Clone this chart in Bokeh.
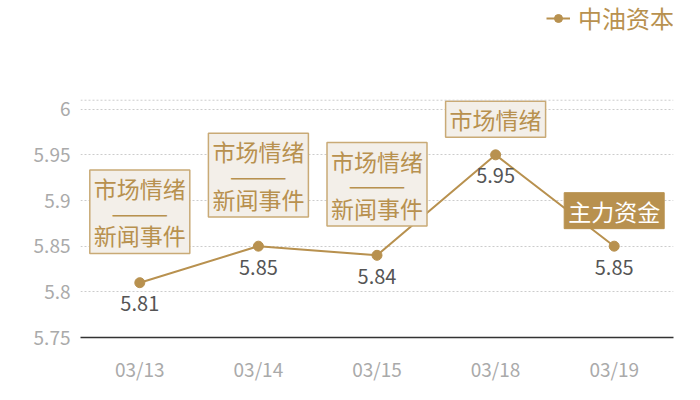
from bokeh.plotting import figure
from bokeh.models import ColumnDataSource, FixedTicker, Span, Legend, LegendItem, PrintfTickFormatter
from bokeh.core.properties import value
from bokeh.embed import file_html
from bokeh.resources import INLINE

# ---- data ----
dates = ["03/13", "03/14", "03/15", "03/18", "03/19"]
prices = [5.81, 5.85, 5.84, 5.95, 5.85]
value_labels = ["5.81", "5.85", "5.84", "5.95", "5.85"]
notes = ["市场情绪\n———\n新闻事件", "市场情绪\n———\n新闻事件", "市场情绪\n———\n新闻事件", "市场情绪", "主力资金"]
note_highlight = [False, False, False, False, True]
series_name = "中油资本"
y_ticks = [5.75, 5.8, 5.85, 5.9, 5.95, 6.0]
y_min = 5.75
grid_top = 6.0098          # top edge of the gridded area
px_per_unit = 916.0        # vertical scale of the reference
frame_h = 338              # frame height in px (frame reaches the top of the figure so the legend shows)
y_view_end = y_min + frame_h / px_per_unit

GOLD = "#b8914f"
BOX_BG = "#f3efe9"
BOX_BORDER = "#c9aa76"
FONT = "Noto Sans CJK SC"

p = figure(x_range=dates, y_range=(y_min, y_view_end), width=684, height=384,
           output_backend="svg", toolbar_location=None,
           min_border_left=80, min_border_right=11, min_border_top=0, min_border_bottom=46)
p.outline_line_color = None
p.background_fill_color = "white"

# axes
p.xaxis.axis_line_color = "#333333"
p.xaxis.axis_line_width = 1.5
p.xaxis.major_tick_line_color = None
p.xaxis.minor_tick_line_color = None
p.xaxis.major_tick_out = 0
p.xaxis.major_tick_in = 0
p.xaxis.minor_tick_out = 0
p.xaxis.major_label_text_color = "#aaaaaa"
p.xaxis.major_label_text_font = FONT
p.xaxis.major_label_text_font_size = "19px"
p.xaxis.major_label_standoff = 17

p.yaxis.axis_line_color = None
p.yaxis.major_tick_line_color = None
p.yaxis.minor_tick_line_color = None
p.yaxis.major_tick_out = 0
p.yaxis.major_tick_in = 0
p.yaxis.minor_tick_out = 0
p.yaxis.ticker = FixedTicker(ticks=y_ticks)
p.yaxis.formatter = PrintfTickFormatter(format="%g")
p.yaxis.major_label_text_color = "#aaaaaa"
p.yaxis.major_label_text_font = FONT
p.yaxis.major_label_text_font_size = "19px"
p.yaxis.major_label_standoff = 10

p.xgrid.visible = False
p.ygrid.grid_line_color = "#cccccc"
p.ygrid.grid_line_dash = "2 2"
p.ygrid.ticker = FixedTicker(ticks=y_ticks)
p.add_layout(Span(location=grid_top, dimension="width", line_color="#cccccc", line_dash="2 2", line_width=1))

src = ColumnDataSource(dict(x=dates, y=prices, lab=value_labels))
ln = p.line("x", "y", source=src, line_color=GOLD, line_width=2)
sc = p.scatter("x", "y", source=src, size=10, fill_color=GOLD, line_color=GOLD)

p.text("x", "y", text="lab", source=src, text_align="center", text_baseline="middle",
       y_offset=21, text_font=value(FONT), text_font_size="20px", text_color="#555555")

# annotation boxes
def box_src(flag):
    xs, ys, ts, offs = [], [], [], []
    for d, v, n, h in zip(dates, prices, notes, note_highlight):
        if h == flag:
            xs.append(d); ys.append(v); ts.append(n)
            offs.append(-17.75 * (n.count("\n") + 2))
    return ColumnDataSource(dict(x=xs, y=ys, t=ts, off=offs))

plain = box_src(False)
p.text("x", "y", text="t", source=plain, anchor="center", text_align="center",
       text_baseline="middle", y_offset="off", text_font=value(FONT), text_font_size="23px",
       text_line_height=0.7, text_color=GOLD, background_fill_color=BOX_BG,
       border_line_color=BOX_BORDER, border_line_width=1.5,
       padding=dict(left=4, right=4, top=1, bottom=1))
hi = box_src(True)
p.text("x", "y", text="t", source=hi, anchor="center", text_align="center",
       text_baseline="middle", y_offset="off", text_font=value(FONT), text_font_size="23px",
       text_line_height=0.7, text_color="white", background_fill_color=GOLD,
       border_line_color=GOLD, padding=dict(left=4, right=4, top=1, bottom=1))

legend = Legend(items=[LegendItem(label=series_name, renderers=[ln, sc])],
                location=(466, 302), orientation="horizontal",
                background_fill_alpha=0, border_line_color=None,
                padding=0, margin=0, glyph_width=24, glyph_height=20, label_standoff=8,
                label_text_font=FONT, label_text_font_size="24px", label_text_color=GOLD)
p.add_layout(legend, "center")

open("out.html", "w").write(file_html(p, INLINE))
